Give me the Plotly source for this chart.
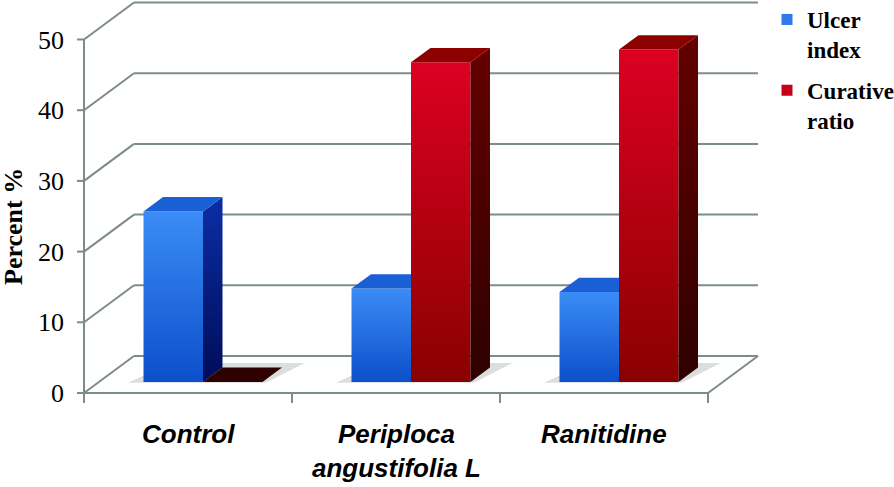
import plotly.graph_objects as go

# ---------------- data ----------------
categories = ["Control", "Periploca<br>angustifolia L", "Ranitidine"]
series_names = ["Ulcer<br>index", "Curative<br>ratio"]
ulcer_index = [24.1, 13.2, 12.7]
curative_ratio = [0.0, 45.2, 47.0]
y_ticks = [0, 10, 20, 30, 40, 50]
y_tick_labels = ["0", "10", "20", "30", "40", "50"]

# ---------------- style ----------------
W_PX, H_PX = 894, 487
PLOT_L, PLOT_R, PLOT_T, PLOT_B = 77, 760, 1, 405
X_RANGE = [-0.53365, 2.75]
Y_RANGE = [-1.6973, 55.446]
DX = 50 / 208          # depth shear, x units per full depth
DY = 37 / 7.07         # depth shear, y units per full depth
D0, D1 = 0.30, 0.69    # bar depth slot
BAR_W = 0.286
GRID = "#7d8b8b"

series = [
    dict(values=ulcer_index,
         front=[[0, "#0c4fcb"], [1, "#3b8cf6"]],
         side=[[0, "#000c58"], [1, "#0b2ea6"]],
         top="#1b5fd4", legend="#2b79ea"),
    dict(values=curative_ratio,
         front=[[0, "#8a0000"], [1, "#dc0022"]],
         side=[[0, "#2e0000"], [1, "#640000"]],
         top="#8c0000", legend="#c4001b"),
]


def P(u, v, d):
    return (u + d * DX, v + d * DY)


fig = go.Figure()


def face(pts, gradient=None, color=None):
    xs = [p[0] for p in pts] + [pts[0][0]]
    ys = [p[1] for p in pts] + [pts[0][1]]
    kw = dict(x=xs, y=ys, mode="lines", fill="toself", line=dict(width=0),
              showlegend=False, hoverinfo="skip")
    if gradient is not None:
        kw["fillgradient"] = dict(type="vertical", colorscale=gradient)
    else:
        kw["fillcolor"] = color
    fig.add_trace(go.Scatter(**kw))


shapes = []


def seg(a, b, width=2, color=GRID):
    shapes.append(dict(type="line", xref="x", yref="y", x0=a[0], y0=a[1],
                       x1=b[0], y1=b[1], line=dict(color=color, width=width),
                       layer="below"))


# walls / gridlines
u_left, u_right = -0.5, len(categories) - 0.5
for t in y_ticks:
    seg(P(u_left, t, 0), P(u_left, t, 1))
    seg(P(u_left, t, 1), P(u_right, t, 1))
    seg((u_left - 7 / 208, t), (u_left, t))          # tick marks
# front axis line and floor
seg(P(u_left, 0, 0), P(u_left, y_ticks[-1], 0))
seg(P(u_left, 0, 0), P(u_right, 0, 0))
seg(P(u_right, 0, 0), P(u_right, 0, 1))
for k in range(len(categories) + 1):
    u = u_left + k
    seg((u, 0), (u, -10 / 7.07))

# shadows on the floor
for i in range(len(categories)):
    gx0, gx1 = i - BAR_W, i + BAR_W
    face([P(gx0 - 0.07, 0, D0 - 0.02), P(gx1 + 0.02, 0, D0 - 0.02),
          P(gx1 + 0.08, 0, D1 + 0.12), P(gx0 + 0.01, 0, D1 + 0.12)],
         color="rgba(150,160,160,0.35)")

# bars
for i in range(len(categories)):
    for s, ser in enumerate(series):
        v = ser["values"][i]
        x0 = i - BAR_W + s * BAR_W
        x1 = x0 + BAR_W
        if v > 0:
            face([P(x0, 0, D0), P(x1, 0, D0), P(x1, v, D0), P(x0, v, D0)],
                 gradient=ser["front"])
            face([P(x1, 0, D0), P(x1, 0, D1), P(x1, v, D1), P(x1, v, D0)],
                 gradient=ser["side"])
            face([P(x0, v, D0), P(x1, v, D0), P(x1, v, D1), P(x0, v, D1)],
                 color=ser["top"])
        else:
            face([P(x0, v, D0), P(x1, v, D0), P(x1, v, D1), P(x0, v, D1)],
                 color=ser["side"][0][1])

# legend entries
for s, ser in enumerate(series):
    fig.add_trace(go.Scatter(x=[None], y=[None], mode="markers",
                             name=series_names[s], legendgroup=str(s),
                             marker=dict(symbol="square", size=11,
                                         color=ser["legend"])))


def py2paper(py):
    return (PLOT_B - py) / (PLOT_B - PLOT_T)


def px2paper(px):
    return (px - PLOT_L) / (PLOT_R - PLOT_L)


annotations = []
for i, cat in enumerate(categories):
    annotations.append(dict(
        x=i, xref="x", y=py2paper(417), yref="paper", text=cat,
        showarrow=False, xanchor="center", yanchor="top", align="center",
        font=dict(family="Liberation Sans", size=26, color="black",
                  weight="bold", style="italic")))
annotations.append(dict(
    x=px2paper(13), xref="paper", y=py2paper(227), yref="paper",
    text="Percent %", textangle=-90, showarrow=False,
    xanchor="center", yanchor="middle",
    font=dict(family="Liberation Serif", size=26, color="black",
              weight="bold")))

fig.update_layout(
    width=W_PX, height=H_PX,
    margin=dict(l=PLOT_L, r=W_PX - PLOT_R, t=PLOT_T, b=H_PX - PLOT_B,
                autoexpand=False),
    paper_bgcolor="white", plot_bgcolor="white",
    xaxis=dict(range=X_RANGE, visible=False, fixedrange=True),
    yaxis=dict(range=Y_RANGE, tickvals=y_ticks, ticktext=y_tick_labels,
               showgrid=False, zeroline=False, showline=False, ticks="",
               ticklabelstandoff=12,
               tickfont=dict(family="Liberation Serif", size=26,
                             color="black"),
               fixedrange=True),
    shapes=shapes,
    annotations=annotations,
    showlegend=True,
    hovermode=False,
    legend=dict(x=px2paper(767), y=py2paper(-2), xanchor="left",
                yanchor="top", valign="top", tracegroupgap=8,
                bgcolor="rgba(0,0,0,0)",
                font=dict(family="Liberation Serif", size=23, color="black",
                          weight="bold")),
)

fig.write_html(
    "out.html",
    config={"displayModeBar": False, "staticPlot": True},
    post_script="document.body.style.margin='0';"
                "document.body.style.padding='0';"
                "document.body.style.overflow='hidden';",
)
